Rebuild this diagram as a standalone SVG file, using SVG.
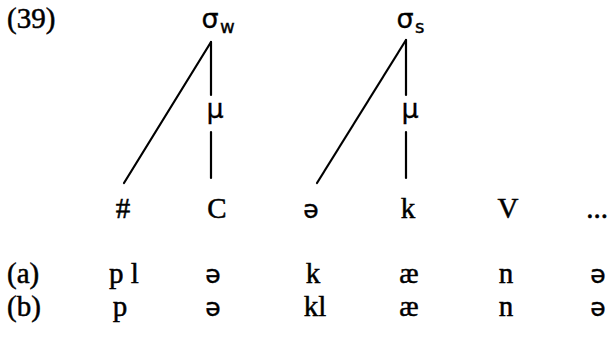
<svg xmlns="http://www.w3.org/2000/svg" width="609" height="338" viewBox="0 0 609 338">
<style>
.t{font-family:"Liberation Serif","Times New Roman",serif;font-size:29px;fill:#000;stroke:#000;stroke-width:0.5}
.g{font-family:"DejaVu Sans","Liberation Sans",sans-serif;font-size:27px;fill:#000;stroke:#000;stroke-width:0.3}
.e{font-family:"DejaVu Sans","Liberation Sans",sans-serif;font-size:25px;fill:#000;stroke:#000;stroke-width:0.4}
.sub{font-family:"DejaVu Sans","Liberation Sans",sans-serif;font-size:18px;fill:#000;stroke:#000;stroke-width:0.4}
.c{text-anchor:middle}
.ln{stroke:#000;stroke-width:2.2;fill:none;stroke-linecap:round}
</style>
<rect width="609" height="338" fill="#fff"/>
<text class="t" x="7" y="28">(39)</text>
<g id="sigma_w"><text class="g c" x="210" y="28">σ</text><text class="sub" x="220" y="33">w</text></g>
<g id="sigma_s"><text class="g c" x="405" y="28">σ</text><text class="sub" x="415" y="33">s</text></g>
<g id="mu_w"><text class="g c" x="215" y="118">μ</text></g>
<g id="mu_s"><text class="g c" x="410" y="118">μ</text></g>
<g id="n_hash"><text class="t c" x="123" y="218">#</text></g>
<g id="n_C"><text class="t c" x="217" y="218">C</text></g>
<g id="n_schwa"><text class="e c" x="311" y="218">ə</text></g>
<g id="n_k"><text class="t c" x="408" y="218">k</text></g>
<g id="n_V"><text class="t c" x="508" y="218">V</text></g>
<g id="n_dots"><text class="t c" x="597" y="218">...</text></g>
<g id="connectors">
<line class="ln" x1="211" y1="42" x2="124" y2="183"/>
<line class="ln" x1="211" y1="42" x2="211" y2="95"/>
<line class="ln" x1="211" y1="132" x2="211" y2="178"/>
<line class="ln" x1="406" y1="40" x2="317" y2="183"/>
<line class="ln" x1="406" y1="40" x2="406" y2="95"/>
<line class="ln" x1="406" y1="132" x2="406" y2="178"/>
</g>
<g id="row_a">
<text class="t" x="7" y="283">(a)</text>
<text class="t" x="109" y="283">p l</text>
<text class="e c" x="213" y="283">ə</text>
<text class="t c" x="313" y="283">k</text>
<text class="t c" x="409" y="283">æ</text>
<text class="t c" x="506" y="283">n</text>
<text class="e c" x="598" y="283">ə</text>
</g>
<g id="row_b">
<text class="t" x="7" y="316">(b)</text>
<text class="t c" x="120" y="316">p</text>
<text class="e c" x="213" y="316">ə</text>
<text class="t c" x="315" y="316">kl</text>
<text class="t c" x="409" y="316">æ</text>
<text class="t c" x="506" y="316">n</text>
<text class="e c" x="598" y="316">ə</text>
</g>
</svg>
